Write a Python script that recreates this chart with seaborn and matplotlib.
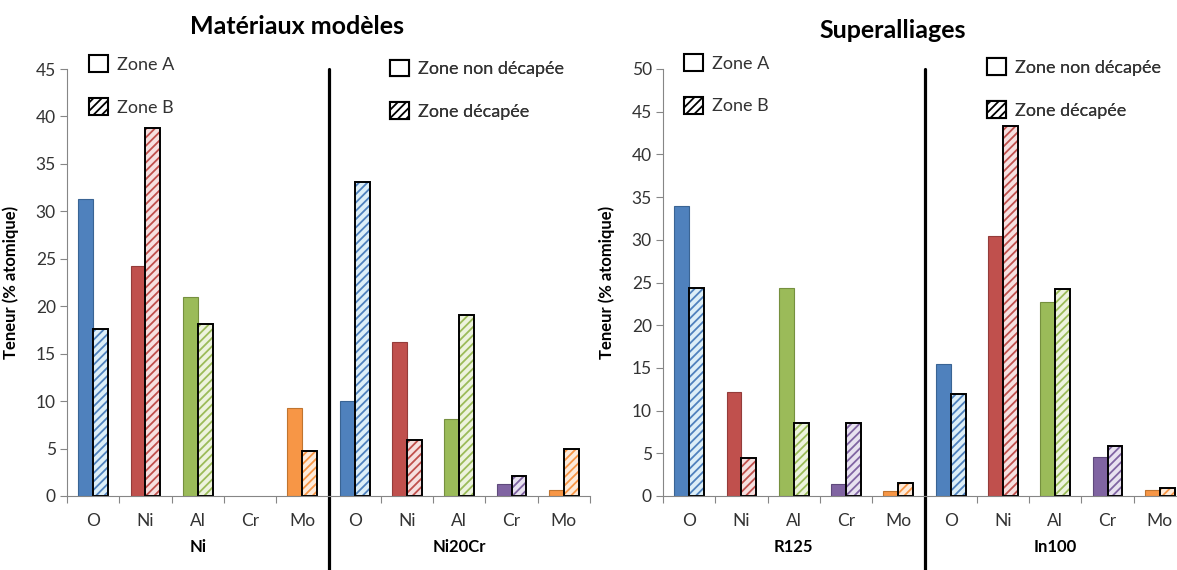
import numpy as np
import pandas as pd
import matplotlib
matplotlib.use("Agg")
import matplotlib.pyplot as plt
import matplotlib.transforms as mtransforms
from matplotlib.patches import Patch, Rectangle
import seaborn as sns

# =====================
# DATA
# =====================
elements = ["O", "Ni", "Al", "Cr", "Mo"]
colors = ["#4F81BD", "#C0504D", "#9BBB59", "#8064A2", "#F79646"]
edge_colors = ["#3A6494", "#943C3A", "#76903F", "#5F4A7C", "#C0742F"]
light_colors = ["#DDEFF8", "#F6E0E0", "#EDF3DE", "#E8E2F0", "#FDEBDB"]

# Matériaux modèles
ni_zone_a = [31.3, 24.2, 21.0, 0.0, 9.3]
ni_zone_b = [17.6, 38.8, 18.1, 0.0, 4.7]
ni20cr_non_decapee = [10.0, 16.2, 8.1, 1.3, 0.6]
ni20cr_decapee = [33.1, 5.9, 19.1, 2.1, 5.0]

# Superalliages
r125_zone_a = [34.0, 12.2, 24.3, 1.4, 0.6]
r125_zone_b = [24.3, 4.5, 8.5, 8.5, 1.5]
in100_non_decapee = [15.4, 30.4, 22.7, 4.6, 0.7]
in100_decapee = [12.0, 43.3, 24.2, 5.9, 0.9]

sns.set_theme(style="white")
plt.rcParams["font.family"] = ["Lato", "DejaVu Sans"]
plt.rcParams["hatch.linewidth"] = 1.3

GREY = "#868686"
TXT = "#333333"


def draw_panel(ax, groups, ymax, legends):
    rows = []
    order = []
    for g_name, vals_1, vals_2 in groups:
        for el, v1, v2 in zip(elements, vals_1, vals_2):
            key = f"{g_name}|{el}"
            order.append(key)
            rows.append({"cat": key, "zone": "plein", "val": v1})
            rows.append({"cat": key, "zone": "hachure", "val": v2})
    df = pd.DataFrame(rows)

    sns.barplot(data=df, x="cat", y="val", hue="zone", order=order,
                hue_order=["plein", "hachure"], width=0.57, saturation=1,
                errorbar=None, legend=False, ax=ax)

    n_groups = len(groups)
    col_idx = list(range(len(elements))) * n_groups
    # barres pleines
    for patch, ci in zip(ax.containers[0], col_idx):
        patch.set_facecolor(colors[ci])
        patch.set_edgecolor(edge_colors[ci])
        patch.set_linewidth(0.8 if patch.get_height() > 0 else 0)
    # barres hachurées (hachure en couleur, contour noir)
    for patch, ci in zip(ax.containers[1], col_idx):
        patch.set_facecolor(light_colors[ci])
        patch.set_edgecolor(colors[ci])
        patch.set_hatch("////")
        patch.set_linewidth(0)
        if patch.get_height() > 0:
            ax.add_patch(Rectangle(patch.get_xy(), patch.get_width(),
                                   patch.get_height(), fill=False,
                                   edgecolor="black", linewidth=1.4))

    n = len(order)
    ax.set_xlim(-0.5, n - 0.5)
    ax.set_ylim(0, ymax)
    ax.set_yticks(np.arange(0, ymax + 1, 5))
    ax.set_xticks(range(n))
    ax.set_xticklabels(elements * n_groups)
    ax.set_xticks(np.arange(-0.5, n, 1), minor=True)
    ax.tick_params(axis="x", which="major", length=0, pad=12,
                   labelsize=12.5, labelcolor=TXT)
    ax.tick_params(axis="x", which="minor", length=5, width=0.8,
                   color=GREY, direction="out", bottom=True)
    ax.tick_params(axis="y", length=5, width=0.8, color=GREY,
                   direction="out", left=True, labelsize=12.5,
                   labelcolor=TXT, pad=3)
    ax.set_xlabel("")
    ax.set_ylabel("Teneur (% atomique)", fontsize=12, fontweight="bold",
                  color="black")
    ax.yaxis.set_label_coords(-0.092, 0.5)
    for s in ["top", "right"]:
        ax.spines[s].set_visible(False)
    for s in ["left", "bottom"]:
        ax.spines[s].set_color(GREY)
        ax.spines[s].set_linewidth(0.8)

    # libellés des groupes
    trans = mtransforms.blended_transform_factory(ax.transData, ax.transAxes)
    for i, (g_name, _, _) in enumerate(groups):
        ax.text(i * len(elements) + 2, -0.12, g_name, transform=trans,
                ha="center", va="center", fontsize=12, fontweight="bold",
                color="black")

    # séparation entre groupes
    ax.axvline(len(elements) - 0.5, ymin=-0.25, ymax=1.0, color="black",
               linewidth=2.3, clip_on=False)

    # légendes
    for (labels, x0, y0) in legends:
        handles = [Patch(facecolor="white", edgecolor="black", linewidth=1.5),
                   Patch(facecolor="white", edgecolor="black", linewidth=1.5,
                         hatch="////")]
        leg = ax.legend(handles, labels, loc="upper left",
                        bbox_to_anchor=(x0, y0), frameon=False, fontsize=13,
                        handlelength=1.05, handleheight=1.05,
                        handletextpad=0.5, labelspacing=1.4,
                        borderpad=0, borderaxespad=0)
        for t in leg.get_texts():
            t.set_color(TXT)
        ax.add_artist(leg)


fig = plt.figure(figsize=(11.77, 5.70), dpi=100)
ax1 = fig.add_axes([67 / 1177, 74 / 570, 523 / 1177, 427 / 570])
ax2 = fig.add_axes([663 / 1177, 74 / 570, 523 / 1177, 427 / 570])

draw_panel(ax1,
           [("Ni", ni_zone_a, ni_zone_b),
            ("Ni20Cr", ni20cr_non_decapee, ni20cr_decapee)],
           45,
           [(["Zone A", "Zone B"], 0.042, 1.032),
            (["Zone non décapée", "Zone décapée"], 0.617, 1.022)])
draw_panel(ax2,
           [("R125", r125_zone_a, r125_zone_b),
            ("In100", in100_non_decapee, in100_decapee)],
           50,
           [(["Zone A", "Zone B"], 0.040, 1.035),
            (["Zone non décapée", "Zone décapée"], 0.620, 1.025)])

fig.text(297 / 1177, 1 - 27 / 570, "Matériaux modèles", ha="center",
         va="center", fontsize=18, fontweight="bold", color="black")
fig.text(893 / 1177, 1 - 30 / 570, "Superalliages", ha="center",
         va="center", fontsize=18, fontweight="bold", color="black")

fig.savefig("out.png", dpi=100)
